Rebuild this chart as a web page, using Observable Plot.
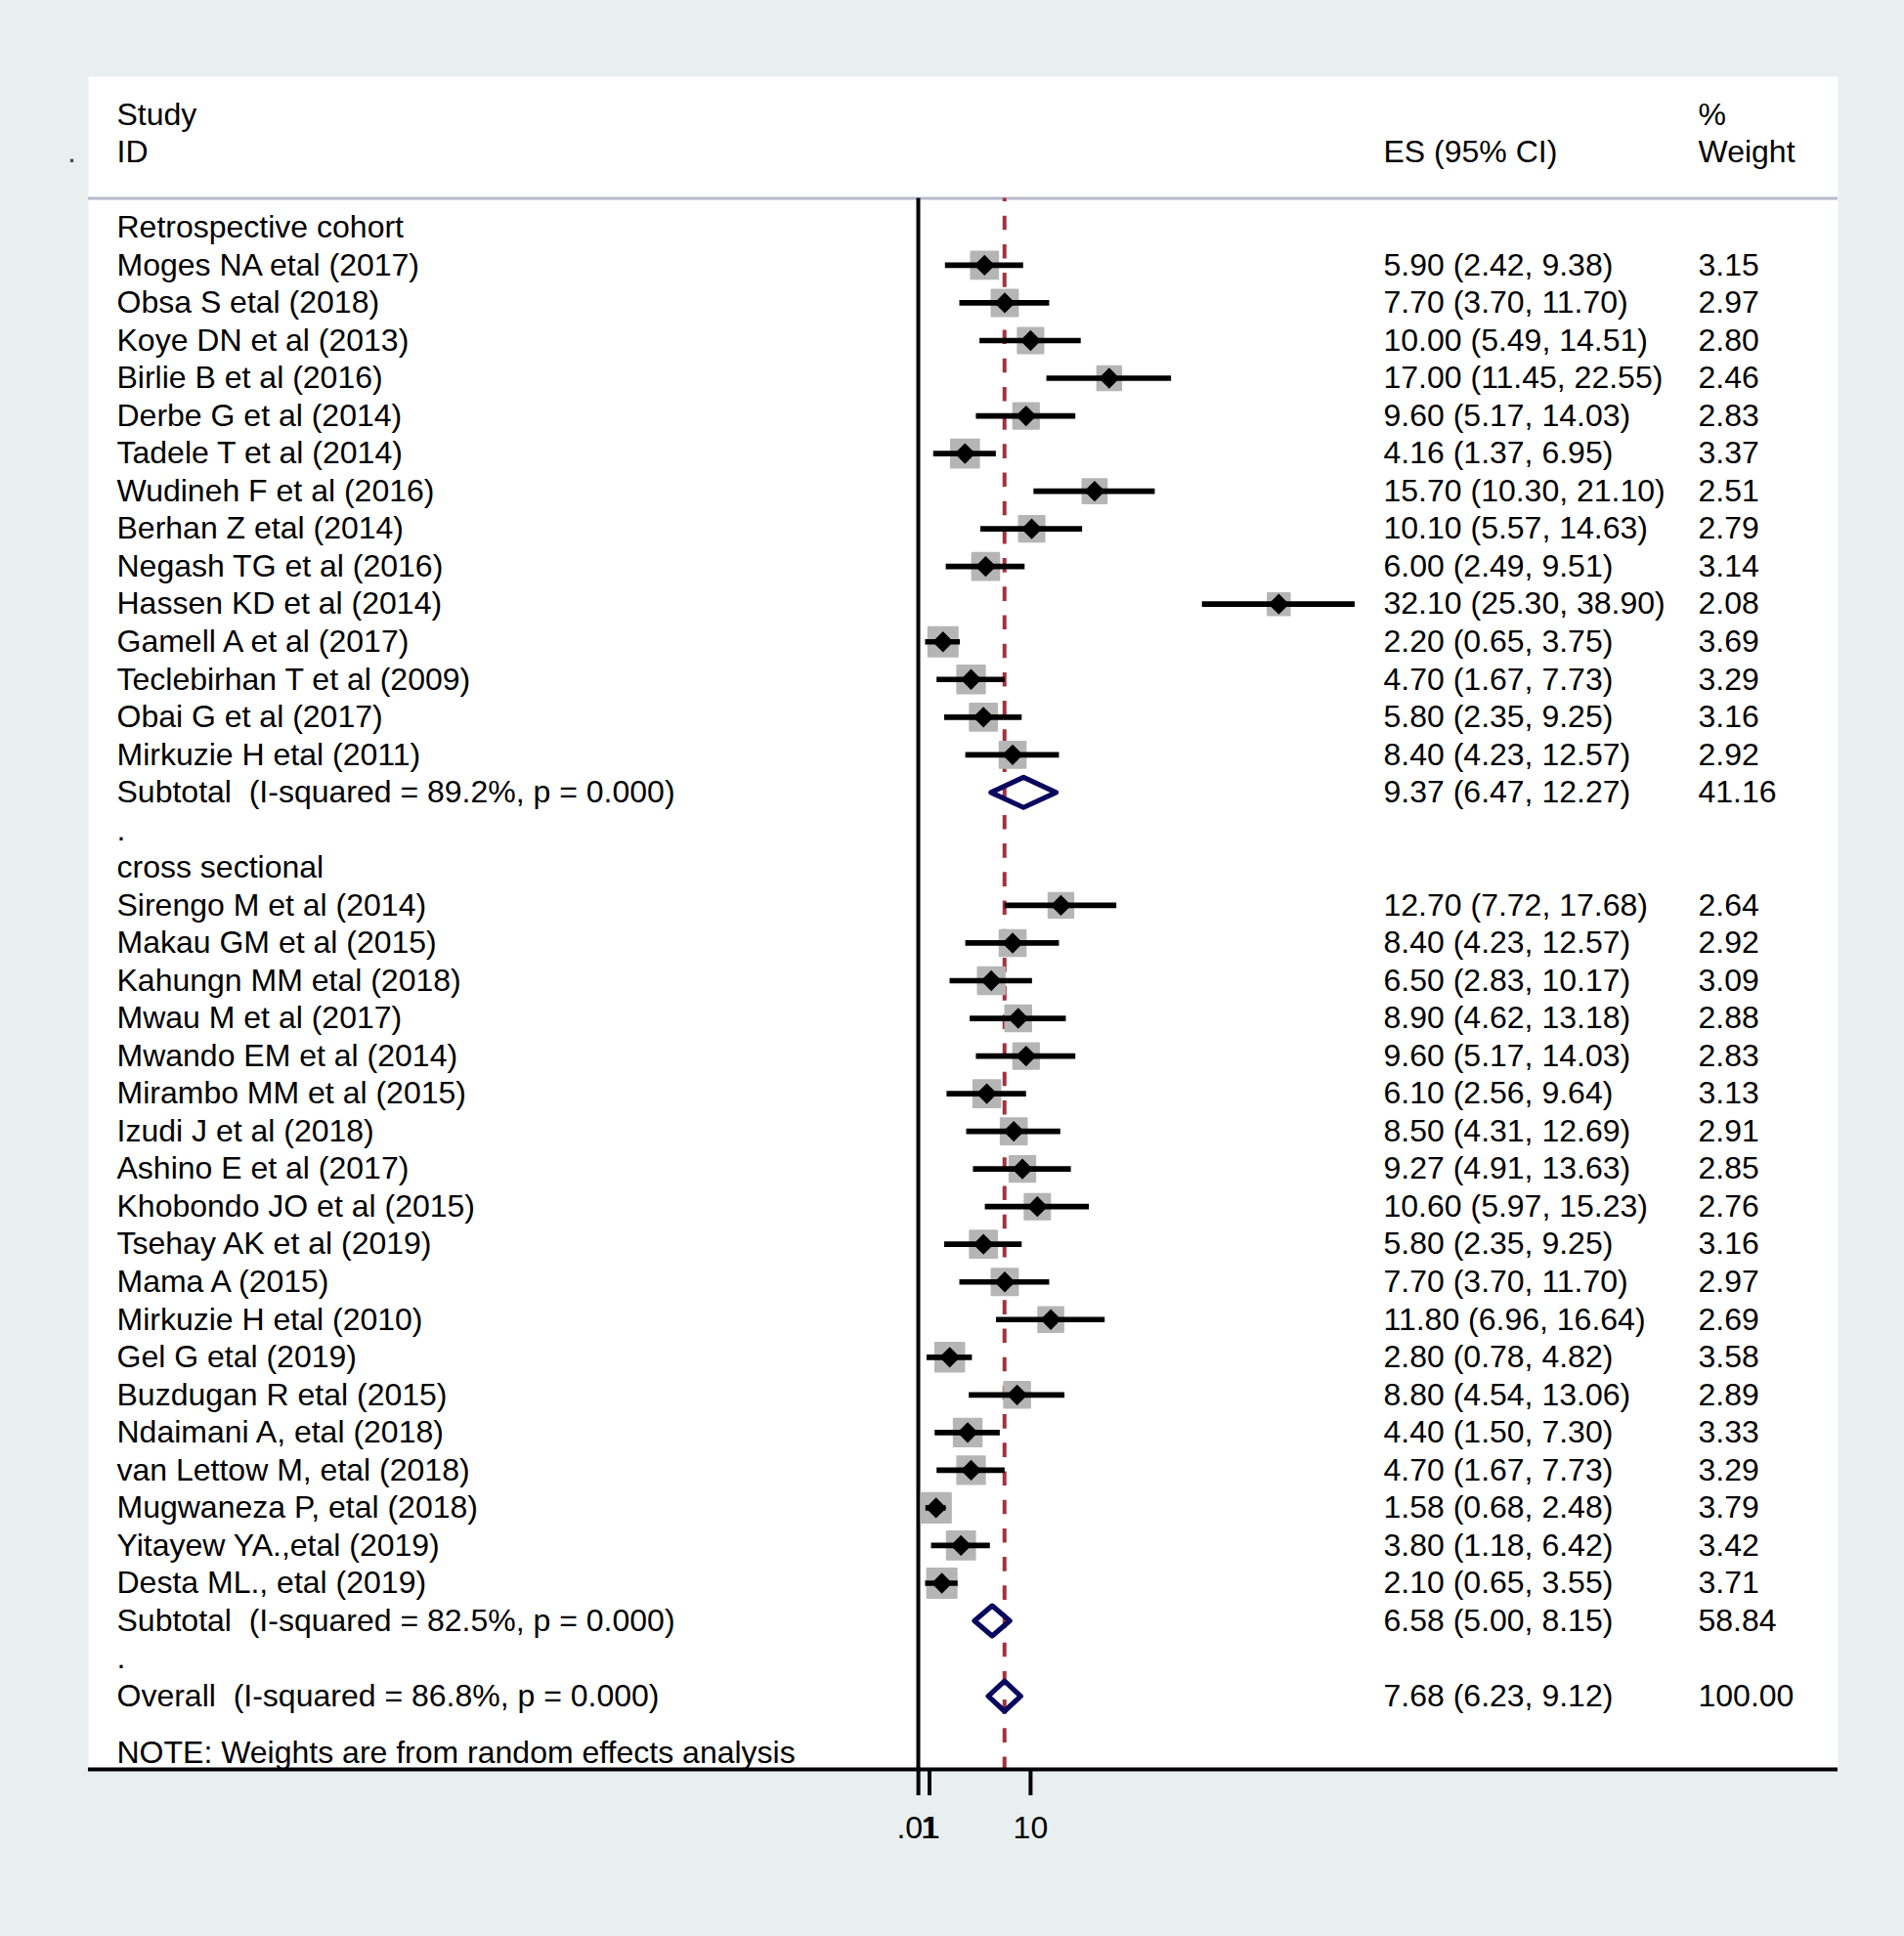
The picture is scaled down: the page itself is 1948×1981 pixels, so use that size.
<!DOCTYPE html>
<html><head><meta charset="utf-8">
<script src="https://cdn.jsdelivr.net/npm/d3@7"></script>
<script src="https://cdn.jsdelivr.net/npm/@observablehq/plot@0.6"></script>
<style>
html,body{margin:0;padding:0;background:#e9efef;overflow:hidden;}
svg text{white-space:pre;}
</style></head><body><div id="chart"></div>
<script>
// ---------- data ----------
const headerLeft = ["Study", "ID"];
const headerES = "ES (95% CI)";
const headerWeight = ["%", "Weight"];
const groupNames = ["Retrospective cohort", "cross sectional"];

const retroStudy = ["Moges NA etal (2017)", "Obsa S etal (2018)", "Koye DN et al (2013)", "Birlie B et al (2016)",
  "Derbe G et al (2014)", "Tadele T et al (2014)", "Wudineh F et al (2016)", "Berhan Z etal (2014)",
  "Negash TG et al (2016)", "Hassen KD et al (2014)", "Gamell A et al (2017)", "Teclebirhan T et al (2009)",
  "Obai G et al (2017)", "Mirkuzie H etal (2011)"];
const retroES = [5.90, 7.70, 10.00, 17.00, 9.60, 4.16, 15.70, 10.10, 6.00, 32.10, 2.20, 4.70, 5.80, 8.40];
const retroLo = [2.42, 3.70, 5.49, 11.45, 5.17, 1.37, 10.30, 5.57, 2.49, 25.30, 0.65, 1.67, 2.35, 4.23];
const retroHi = [9.38, 11.70, 14.51, 22.55, 14.03, 6.95, 21.10, 14.63, 9.51, 38.90, 3.75, 7.73, 9.25, 12.57];
const retroW  = [3.15, 2.97, 2.80, 2.46, 2.83, 3.37, 2.51, 2.79, 3.14, 2.08, 3.69, 3.29, 3.16, 2.92];

const crossStudy = ["Sirengo M et al (2014)", "Makau GM et al (2015)", "Kahungn MM etal (2018)", "Mwau M et al (2017)",
  "Mwando EM et al (2014)", "Mirambo MM et al (2015)", "Izudi J et al (2018)", "Ashino E et al (2017)",
  "Khobondo JO et al (2015)", "Tsehay AK et al (2019)", "Mama A (2015)", "Mirkuzie H etal (2010)",
  "Gel G etal (2019)", "Buzdugan R etal (2015)", "Ndaimani A, etal (2018)", "van Lettow M, etal (2018)",
  "Mugwaneza P, etal (2018)", "Yitayew YA.,etal (2019)", "Desta ML., etal (2019)"];
const crossES = [12.70, 8.40, 6.50, 8.90, 9.60, 6.10, 8.50, 9.27, 10.60, 5.80, 7.70, 11.80, 2.80, 8.80, 4.40, 4.70, 1.58, 3.80, 2.10];
const crossLo = [7.72, 4.23, 2.83, 4.62, 5.17, 2.56, 4.31, 4.91, 5.97, 2.35, 3.70, 6.96, 0.78, 4.54, 1.50, 1.67, 0.68, 1.18, 0.65];
const crossHi = [17.68, 12.57, 10.17, 13.18, 14.03, 9.64, 12.69, 13.63, 15.23, 9.25, 11.70, 16.64, 4.82, 13.06, 7.30, 7.73, 2.48, 6.42, 3.55];
const crossW  = [2.64, 2.92, 3.09, 2.88, 2.83, 3.13, 2.91, 2.85, 2.76, 3.16, 2.97, 2.69, 3.58, 2.89, 3.33, 3.29, 3.79, 3.42, 3.71];

const subtotalLabels = ["Subtotal  (I-squared = 89.2%, p = 0.000)", "Subtotal  (I-squared = 82.5%, p = 0.000)"];
const subtotalES = [9.37, 6.58];
const subtotalLo = [6.47, 5.00];
const subtotalHi = [12.27, 8.15];
const subtotalW  = [41.16, 58.84];

const overallLabel = "Overall  (I-squared = 86.8%, p = 0.000)";
const overallES = 7.68, overallLo = 6.23, overallHi = 9.12, overallW = 100.00;
const noteText = "NOTE: Weights are from random effects analysis";

const xTickValues = [0.01, 1, 10];
const xTickLabels = [".01", "1", "10"];

// ---------- build rows ----------
const fmt = (e, l, h) => `${e.toFixed(2)} (${l.toFixed(2)}, ${h.toFixed(2)})`;
const groups = [
  {study: retroStudy, es: retroES, lo: retroLo, hi: retroHi, w: retroW},
  {study: crossStudy, es: crossES, lo: crossLo, hi: crossHi, w: crossW}
];
const labelRows = [], studyRows = [], diamondRows = [];
let row = 0;
groups.forEach((g, gi) => {
  labelRows.push({row: row++, label: groupNames[gi]});
  g.study.forEach((s, i) => {
    labelRows.push({row, label: s, esText: fmt(g.es[i], g.lo[i], g.hi[i]), wText: g.w[i].toFixed(2)});
    studyRows.push({row, es: g.es[i], lo: g.lo[i], hi: g.hi[i], w: g.w[i]});
    row++;
  });
  labelRows.push({row, label: subtotalLabels[gi], esText: fmt(subtotalES[gi], subtotalLo[gi], subtotalHi[gi]), wText: subtotalW[gi].toFixed(2)});
  diamondRows.push({row, es: subtotalES[gi], lo: subtotalLo[gi], hi: subtotalHi[gi]});
  row++;
  labelRows.push({row: row++, label: "."});
});
labelRows.push({row, label: overallLabel, esText: fmt(overallES, overallLo, overallHi), wText: overallW.toFixed(2)});
diamondRows.push({row, es: overallES, lo: overallLo, hi: overallHi});
const noteRow = row + 1.5;
labelRows.push({row: noteRow, label: noteText});

const headRow1 = -3, headRow2 = -2;
const sepRow = -0.776, axisRow = 40.945;
const dh = 0.40;
const diamondPts = diamondRows.flatMap((d, k) => [
  {x: d.lo, y: d.row, z: k}, {x: d.es, y: d.row - dh, z: k},
  {x: d.hi, y: d.row, z: k}, {x: d.es, y: d.row + dh, z: k}
]);
const headerRows = [
  {row: headRow1, left: headerLeft[0], w: headerWeight[0]},
  {row: headRow2, left: headerLeft[1], es: headerES, w: headerWeight[1]}
];

const rowPx = 38.53, row0 = 232.4;
const chart = Plot.plot({
  width: 1948, height: 1981,
  marginLeft: 90, marginRight: 68, marginTop: 78, marginBottom: 171,
  style: {fontFamily: "'Liberation Sans', Arial, sans-serif", fontSize: "32px", background: "transparent", color: "black"},
  x: {type: "linear", domain: [0, 10], range: [939, 1053.9], label: null},
  y: {type: "linear", domain: [0, 40], range: [row0, row0 + rowPx * 40], axis: null},
  r: {type: "sqrt", domain: [0, 4], range: [0, 17.6]},
  marks: [
    Plot.frame({fill: "white", stroke: null}),
    Plot.ruleY([sepRow], {stroke: "#b7bacd", strokeWidth: 3}),
    Plot.ruleX([0], {y1: sepRow, y2: axisRow, stroke: "black", strokeWidth: 4}),
    Plot.ruleX([overallES], {y1: sepRow, y2: axisRow, stroke: "#a5313d", strokeWidth: 4, strokeDasharray: "14.6 14.6", strokeDashoffset: 11}),
    Plot.dot(studyRows, {x: "es", y: "row", r: "w", symbol: "square", fill: "#b5b5b5", stroke: "#b5b5b5", strokeWidth: 2, strokeLinejoin: "round"}),
    Plot.ruleY(studyRows, {y: "row", x1: "lo", x2: "hi", stroke: "black", strokeWidth: 5.7}),
    Plot.dot(studyRows, {x: "es", y: "row", symbol: "diamond2", r: 9.6, fill: "black"}),
    Plot.line(diamondPts, {x: "x", y: "y", z: "z", curve: "linear-closed", stroke: "#08085e", strokeWidth: 5.2, strokeLinejoin: "round"}),
    Plot.text(headerRows, {y: "row", text: "left", frameAnchor: "left", dx: 29, textAnchor: "start"}),
    Plot.text(headerRows.filter(d => d.es), {y: "row", text: "es", frameAnchor: "left", dx: 1325, textAnchor: "start"}),
    Plot.text(headerRows, {y: "row", text: "w", frameAnchor: "left", dx: 1647, textAnchor: "start"}),
    Plot.text(["."], {y: [headRow2], text: d => d, frameAnchor: "left", dx: -17, textAnchor: "middle", fill: "#444"}),
    Plot.text(labelRows, {y: "row", text: "label", frameAnchor: "left", dx: 29, textAnchor: "start"}),
    Plot.text(labelRows.filter(d => d.esText), {y: "row", text: "esText", frameAnchor: "left", dx: 1325, textAnchor: "start"}),
    Plot.text(labelRows.filter(d => d.wText), {y: "row", text: "wText", frameAnchor: "left", dx: 1647, textAnchor: "start"}),
    Plot.ruleY([axisRow], {stroke: "black", strokeWidth: 4}),
    Plot.axisX({ticks: xTickValues, tickFormat: d => xTickLabels[xTickValues.indexOf(d)], tickSize: 27, tickPadding: 21, strokeWidth: 4, fontSize: 32, anchor: "bottom", label: null})
  ]
});
document.getElementById("chart").appendChild(chart);
</script></body></html>
